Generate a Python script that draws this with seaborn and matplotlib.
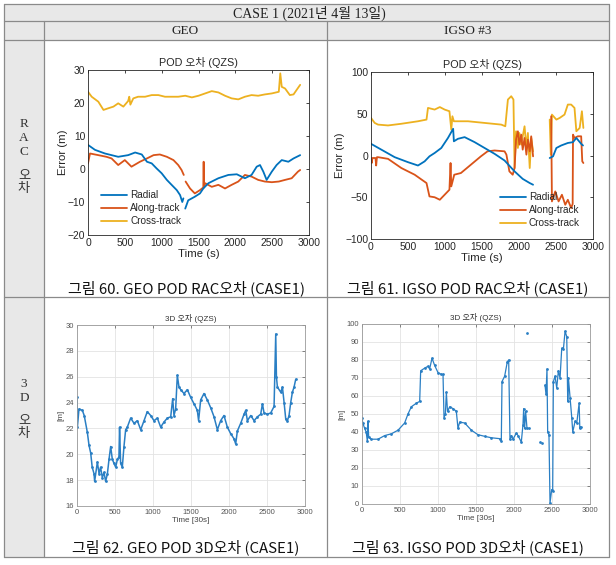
import numpy as np
import pandas as pd
import seaborn as sns
import matplotlib.pyplot as plt
from matplotlib.patches import Rectangle
from matplotlib.lines import Line2D

# ---- GEO RAC error (QZS) ----
geo_rad_t = [0, 95, 230, 410, 545, 640, 730, 800, 865, 930, 1000, 1070, 1135, 1205, 1250, 1280, 1295,
             np.nan, 1320, 1360, 1450, 1520, 1565, 1635, 1770, 1905, 2020, 2130, 2220, 2290, 2335, 2380,
             2425, 2495, 2560, 2630, 2720, 2790, 2880]
geo_rad_v = [7.3, 5.8, 4.7, 3.7, 4.2, 5.0, 4.4, 2.2, 1.7, 0.2, -1.3, -3.3, -4.8, -6.4, -7.9, -10.0, -8.9,
             np.nan, -12.0, -9.5, -8.4, -7.4, -5.9, -4.3, -2.8, -1.8, -1.6, -2.8, -1.8, 0.7, 1.2, -0.8,
             -3.3, -0.8, 1.2, 2.7, 2.2, 3.2, 4.2]
geo_alo_t = [0, 27, 140, 250, 320, 410, 500, 590, 705, 800, 890, 975, 1070, 1160, 1225, 1270, 1300,
             np.nan, 1325, 1385, 1450, 1520, 1565, 1570, 1575, 1590, 1680, 1770, 1860, 1950, 2040, 2130,
             2220, 2310, 2400, 2495, 2590, 2675, 2765, 2850, 2880]
geo_alo_v = [1.7, 4.7, 4.2, 3.7, 3.2, 1.2, 2.7, 0.7, 2.2, 3.2, 4.2, 4.4, 3.7, 2.7, 1.2, -0.3, -1.8,
             np.nan, -3.8, -5.9, -7.4, -6.4, -5.6, 2.2, -5.6, -4.3, -5.4, -4.8, -5.9, -4.8, -3.8, -1.8,
             -2.3, -3.3, -3.8, -4.0, -3.8, -3.3, -2.8, -0.8, -0.3]
geo_crs_t = [0, 50, 140, 210, 275, 345, 410, 480, 545, 560, 575, 615, 680, 775, 865, 955, 1045, 1135,
             1225, 1320, 1410, 1500, 1590, 1680, 1770, 1860, 1950, 2040, 2130, 2220, 2310, 2400, 2495,
             2590, 2610, 2630, 2675, 2740, 2790, 2830, 2880]
geo_crs_v = [23.4, 21.9, 20.4, 17.9, 18.4, 18.9, 19.9, 18.9, 20.6, 21.9, 19.5, 21.4, 21.9, 21.9, 22.4,
             22.4, 21.9, 21.9, 21.9, 22.2, 21.7, 22.2, 22.9, 23.6, 23.2, 22.2, 21.4, 21.1, 21.9, 22.4,
             22.2, 22.6, 22.9, 23.4, 29.0, 24.9, 24.4, 22.4, 22.6, 23.9, 25.5]

# ---- IGSO #3 RAC error (QZS) ----
igso_rad_t = [0, 140, 320, 500, 635, 725, 790, 860, 950, 1040, 1110, 1120, 1175, 1265, 1400, 1535, 1670,
              1805, 1940, 2050, 2145, 2190, np.nan, 2415, 2460, 2505, 2570, 2660, 2730, 2775, 2840, 2865]
igso_rad_v = [14, 7, -2, -8, -12, -7, -1, 3, 9, 21, 32, 17, 20, 22, 16, 9, 2,
              -6, -19, -28, -33, -35, np.nan, -3, -1, 9, 12, 15, 16, 21, 14, 12]
igso_alo_t = [0, 10, 20, 60, 70, 80, 95, 230, 410, 590, 750, 790, 860, 930, 995, 1060, 1075, 1085, 1125,
              1215, 1350, 1485, 1575, 1670, 1805, 1830, 1870, 1915, 1940, 1960, 1985, 2005, 2030, 2050,
              2075, 2100, 2120, 2145, 2165, 2190, np.nan, 2435, 2445, 2490, 2535, 2580, 2625, 2660, 2705,
              2725, 2730, 2750, 2795, 2840, 2855, 2870]
igso_alo_v = [-3, -9, -3, -3, -12, -2, -2, -4, -15, -23, -33, -49, -50, -53, -47, -41, -9, -37, -23,
              -21, -11, -1, 5, 6, 5, 1, -19, -23, -15, 19, 29, 13, 25, 7, 21, 1, 19, 5, 23, -1,
              np.nan, 47, -55, -43, -55, -47, -59, -53, -63, -58, 25, 21, 23, 23, -7, -9]
igso_crs_t = [0, 50, 95, 230, 410, 635, 750, 770, 860, 930, 995, 1060, 1085, 1100, 1120, 1310, 1535,
              1760, 1815, 1850, 1895, 1925, 1940, 1960, 1985, 2005, 2030, 2075, 2100, 2120, 2145, 2165,
              2190, np.nan, 2415, 2430, 2445, 2505, 2550, 2615, 2660, 2705, 2750, 2775, 2820, 2850, 2870]
igso_crs_v = [45, 39, 37, 36, 38, 41, 43, 57, 55, 58, 55, 53, 31, 47, 41, 41, 39,
              37, 35, 67, 71, 67, -15, 29, 9, 27, 13, 35, 9, 27, -15, 21,
              5, np.nan, 43, 1, 49, 43, 45, 49, 61, 61, 57, 29, 33, 53, 33]

# ---- GEO 3D error ----
geo3d_t = [0, 5, 26, 70, 95, 136, 158, 180, 200, 224, 232, 268, 290, 310, 333, 355, 377, 400, 421, 443,
           465, 487, 509, 531, 552, 560, 574, 596, 618, 640, 662, 706, 750, 794, 838, 882, 925, 969, 1013,
           1057, 1101, 1145, 1189, 1233, 1259, 1276, 1298, 1320, 1342, 1364, 1408, 1452, 1496, 1540, 1583,
           1600, 1627, 1671, 1715, 1759, 1803, 1847, 1890, 1934, 1978, 2022, 2066, 2088, 2110, 2154, 2198,
           2220, 2242, 2286, 2330, 2374, 2417, 2440, 2461, 2505, 2549, 2593, 2615, 2624, 2637, 2681, 2703,
           2725, 2747, 2769, 2790, 2812, 2834, 2856, 2878]
geo3d_v = [24.4, 22.1, 23.5, 23.4, 23.0, 21.7, 20.7, 20.1, 19.0, 18.5, 17.9, 19.4, 18.5, 19.0, 18.2,
           18.6, 17.9, 18.5, 19.6, 20.6, 19.6, 19.3, 19.0, 19.6, 19.8, 22.1, 19.3, 19.0, 20.6, 21.9, 22.1,
           22.8, 22.4, 22.6, 21.9, 22.6, 23.3, 23.0, 22.6, 22.8, 22.1, 22.5, 22.8, 22.9, 24.3, 23.0, 23.5,
           26.1, 25.2, 25.0, 24.7, 25.0, 24.4, 23.9, 23.4, 22.6, 24.2, 24.7, 24.2, 23.6, 22.9, 21.9, 22.6,
           23.0, 22.1, 21.6, 21.2, 20.8, 21.8, 22.4, 23.1, 23.4, 22.6, 23.0, 22.6, 22.9, 23.1, 23.9, 23.2,
           23.1, 23.2, 23.7, 29.3, 26.0, 25.2, 24.8, 25.2, 24.0, 22.7, 22.6, 23.0, 24.0, 24.8, 25.2, 25.8]

# ---- IGSO #3 3D error ----
igso3d_t = [0, 10, 35, 55, 70, 79, 88, 123, 211, 298, 386, 474, 561, 605, 649, 715, 759, 772, 825, 868,
            890, 921, 956, 1000, 1044, 1066, 1079, 1097, 1110, 1125, 1154, 1198, 1241, 1263, 1285, 1351,
            1439, 1526, 1614, 1702, 1811, 1833, 1842, 1877, 1912, 1930, 1947, 1965, 1987, 2031, 2053, 2096,
            2118, 2127, 2140, 2153, 2171, 2193, np.nan, 2408, 2421, 2434, 2443, 2460, 2474, 2496, 2509,
            2518, 2540, 2562, 2584, 2606, 2628, 2650, 2672, 2694, 2707, 2716, 2738, 2760, 2773, 2804, 2826,
            2857, 2866, 2878]
igso3d_v = [48, 45, 42, 40, 35, 46, 37, 36, 36, 38, 39, 41, 45, 50, 54, 56, 57, 74, 75.5, 76.5,
            75, 81, 77, 73, 72, 72, 48, 50, 62, 51.5, 54, 53, 51.5, 42, 45.5, 45,
            41, 38.5, 37.6, 36.8, 36.3, 35, 68, 71, 79, 80, 36, 38, 36, 39.4, 38, 34.4,
            44, 53, 42, 51.5, 42, 42, np.nan, 66, 61, 75, 40, 38.5, 0.5, 8, 7,
            68, 71, 64.5, 74, 70, 86.5, 86, 96, 93, 57, 70, 59, 48, 40, 46, 45,
            56, 42, 43]
igso3d_dot_t = [2167, 2342, 2364]
igso3d_dot_v = [95, 34.4, 34]

# ---- texts ----
case_title = 'CASE 1 (2021년 4월 13일)'
col_titles = ['GEO', 'IGSO #3']
row_chars = [['R', 'A', 'C', '오', '차'], ['3', 'D', '오', '차']]
captions = ['그림 60. GEO POD RAC오차 (CASE1)', '그림 61. IGSO POD RAC오차 (CASE1)',
            '그림 62. GEO POD 3D오차 (CASE1)', '그림 63. IGSO POD 3D오차 (CASE1)']
rac_labels = ['Radial', 'Along-track', 'Cross-track']
rac_colors = ['#0072BD', '#D95319', '#EDB120']

sns.set_style('white')
plt.rcParams['font.family'] = ['Liberation Sans', 'Noto Sans CJK KR']

W, H = 616, 565
fig = plt.figure(figsize=(W / 100, H / 100), dpi=100)
fig.patch.set_facecolor('white')


def box(l, t, r, b):
    return [l / W, 1 - b / H, (r - l) / W, (b - t) / H]


def fline(x0, y0, x1, y1):
    fig.add_artist(Line2D([x0 / W, x1 / W], [1 - y0 / H, 1 - y1 / H], transform=fig.transFigure,
                          color='#8a8a8a', lw=0.9))


def ftext(x, y, s, **kw):
    fig.text(x / W, 1 - y / H, s, ha='center', va='center', **kw)


# table
gray = '#e8e8e8'
for l, t, r, b in [(4, 4, 609, 40), (4, 40, 44, 557)]:
    fig.add_artist(Rectangle((l / W, 1 - b / H), (r - l) / W, (b - t) / H, transform=fig.transFigure,
                             facecolor=gray, edgecolor='none'))
fline(4, 4, 609, 4)
fline(4, 557, 609, 557)
fline(4, 4, 4, 557)
fline(609, 4, 609, 557)
fline(4, 21, 609, 21)
fline(4, 40, 609, 40)
fline(4, 297, 609, 297)
fline(44, 21, 44, 557)
fline(327, 21, 327, 557)

serif = ['Liberation Serif', 'Noto Sans CJK KR']
ftext(309, 13, case_title, fontsize=10, family=serif, color='#222222')
ftext(185, 31, col_titles[0], fontsize=9.5, family=serif, color='#222222')
ftext(468, 31, col_titles[1], fontsize=9.5, family=serif, color='#222222')
for ch, y in zip(row_chars[0], [124, 138, 152, 175, 189]):
    ftext(24, y, ch, fontsize=9.5, family=serif, color='#333333')
for ch, y in zip(row_chars[1], [384, 398, 420, 434]):
    ftext(24, y, ch, fontsize=9.5, family=serif, color='#333333')

cap_font = ['Noto Sans CJK KR', 'DejaVu Sans']
for (x, y), s in zip([(186, 288), (468, 288), (186, 547), (468, 547)], captions):
    ftext(x, y, s, fontsize=10.8, family=cap_font, color='#111111')


def draw(ax, t, v, color, lw, marker=None, ms=0):
    df = pd.DataFrame({'t': t, 'v': v})
    df['seg'] = df['t'].isna().cumsum()
    df = df.dropna()
    for _, g in df.groupby('seg'):
        sns.lineplot(data=g, x='t', y='v', ax=ax, color=color, lw=lw, sort=False, estimator=None,
                     marker=marker, markersize=ms, markeredgewidth=0, legend=False)


def matlab_axes(ax, ylim, yticks):
    ax.set_xlim(0, 3000)
    ax.set_ylim(*ylim)
    ax.set_xticks(range(0, 3001, 500))
    ax.set_yticks(yticks)
    ax.tick_params(direction='in', top=True, right=True, length=2.5, width=0.6, labelsize=7.4,
                   pad=2, colors='#262626')
    for s in ax.spines.values():
        s.set_color('#262626')
        s.set_linewidth(0.6)
    ax.set_xlabel('Time (s)', fontsize=8.2, labelpad=1, color='#262626')
    ax.set_ylabel('Error (m)', fontsize=8.2, labelpad=0, color='#262626')
    ax.set_title('POD 오차 (QZS)', fontsize=7.8, pad=3, color='#262626')
    handles = [Line2D([], [], color=c, lw=1.3) for c in rac_colors]
    return handles


ax1 = fig.add_axes(box(88, 70, 309, 235))
draw(ax1, geo_crs_t, geo_crs_v, rac_colors[2], 1.3)
draw(ax1, geo_alo_t, geo_alo_v, rac_colors[1], 1.3)
draw(ax1, geo_rad_t, geo_rad_v, rac_colors[0], 1.3)
h = matlab_axes(ax1, (-20, 30), range(-20, 31, 10))
ax1.legend(h, rac_labels, frameon=False, fontsize=7.2, loc='upper left', bbox_to_anchor=(0.06, 0.27),
           handlelength=2.6, labelspacing=0.3, borderaxespad=0, borderpad=0, handletextpad=0.3)

ax2 = fig.add_axes(box(371, 72, 593, 239))
draw(ax2, igso_crs_t, igso_crs_v, rac_colors[2], 1.3)
draw(ax2, igso_alo_t, igso_alo_v, rac_colors[1], 1.3)
draw(ax2, igso_rad_t, igso_rad_v, rac_colors[0], 1.3)
h = matlab_axes(ax2, (-100, 100), range(-100, 101, 50))
ax2.legend(h, rac_labels, frameon=False, fontsize=7.2, loc='upper left', bbox_to_anchor=(0.58, 0.28),
           handlelength=2.6, labelspacing=0.3, borderaxespad=0, borderpad=0, handletextpad=0.3)


def grid_axes(ax, ylim, yticks):
    ax.set_xlim(0, 3000)
    ax.set_ylim(*ylim)
    ax.set_xticks(range(0, 3001, 500))
    ax.set_yticks(yticks)
    ax.grid(True, color='#e3e3e3', lw=0.6)
    ax.set_axisbelow(True)
    ax.tick_params(direction='in', top=True, right=True, length=2, width=0.5, labelsize=5.5,
                   pad=2, colors='#555555')
    for s in ax.spines.values():
        s.set_color('#9a9a9a')
        s.set_linewidth(0.6)
    ax.set_xlabel('Time [30s]', fontsize=5.8, labelpad=1, color='#444444')
    ax.set_ylabel('[m]', fontsize=5.8, labelpad=1, color='#444444')
    ax.set_title('3D 오차 (QZS)', fontsize=5.8, pad=3, color='#333333')


blue3d = '#2a7fc4'
ax3 = fig.add_axes(box(77, 325, 305, 506))
draw(ax3, geo3d_t, geo3d_v, blue3d, 1.1, marker='o', ms=2)
grid_axes(ax3, (16, 30), range(16, 31, 2))

ax4 = fig.add_axes(box(362, 324, 590, 504))
draw(ax4, igso3d_t, igso3d_v, blue3d, 0.9, marker='o', ms=2)
sns.scatterplot(x=igso3d_dot_t, y=igso3d_dot_v, ax=ax4, color=blue3d, s=4, linewidth=0)
grid_axes(ax4, (0, 100), range(0, 101, 10))

fig.savefig('out.png', dpi=100)
